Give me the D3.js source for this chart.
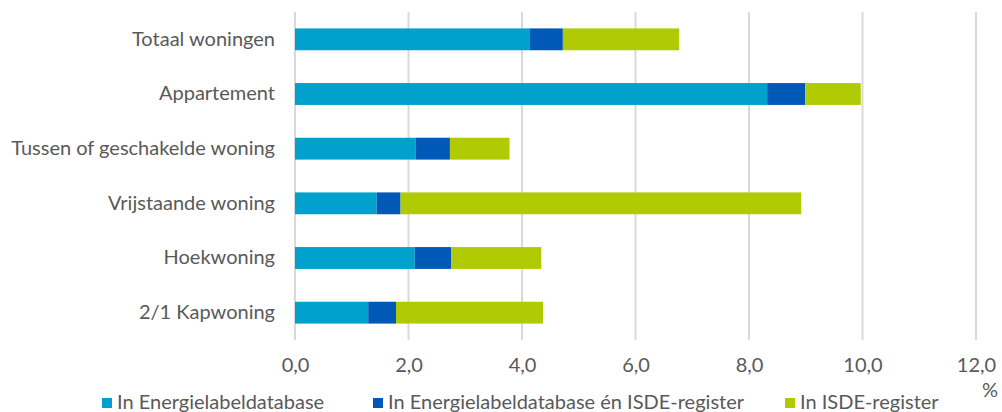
<!DOCTYPE html>
<html>
<head>
<meta charset="utf-8">
<script src="https://cdn.jsdelivr.net/npm/d3@7"></script>
<style>
  html, body { margin: 0; padding: 0; background: #fff; }
  svg { display: block; font-family: Lato, "Open Sans", sans-serif; }
</style>
</head>
<body>
<svg id="chart" width="1002" height="412"></svg>
<script>
// Share of dwellings per type, in percent
const categories = ["Totaal woningen", "Appartement", "Tussen of geschakelde woning",
                    "Vrijstaande woning", "Hoekwoning", "2/1 Kapwoning"];
const seriesNames = ["In Energielabeldatabase", "In Energielabeldatabase én ISDE-register", "In ISDE-register"];
const energielabel = [4.13, 8.32, 2.13, 1.44, 2.11, 1.29];
const beide        = [0.59, 0.67, 0.60, 0.42, 0.64, 0.49];
const isde         = [2.05, 0.98, 1.05, 7.06, 1.59, 2.59];
const xTicks = [0, 2, 4, 6, 8, 10, 12];
const colors = ["#00a1cd", "#0058b7", "#b0cb04"];

const rows = categories.map((c, i) => ({
  cat: c,
  [seriesNames[0]]: energielabel[i],
  [seriesNames[1]]: beide[i],
  [seriesNames[2]]: isde[i]
}));
const stacked = d3.stack().keys(seriesNames)(rows);

const svg = d3.select("#chart");
const x = d3.scaleLinear().domain([0, 12]).range([295, 976]);
const y = d3.scaleBand().domain(categories).range([12, 340])
  .paddingInner(0.6).paddingOuter(0.3);

const fmt = v => d3.format(".1f")(v).replace(".", ",");
const textColor = "#595959";
const fontSize = 20;

// vertical gridlines
svg.append("g").selectAll("line").data(xTicks).join("line")
  .attr("x1", d => x(d)).attr("x2", d => x(d))
  .attr("y1", 12).attr("y2", 340)
  .attr("stroke", "#d9d9d9").attr("stroke-width", 2);

// stacked bars
svg.append("g").selectAll("g").data(stacked).join("g")
  .attr("fill", (d, i) => colors[i])
  .selectAll("rect").data(d => d).join("rect")
  .attr("x", d => x(d[0]))
  .attr("y", d => y(d.data.cat))
  .attr("width", d => x(d[1]) - x(d[0]))
  .attr("height", y.bandwidth());

// category labels
const yAxis = svg.append("g").attr("transform", "translate(295,0)")
  .call(d3.axisLeft(y).tickSize(0).tickPadding(20));
yAxis.select(".domain").remove();
yAxis.selectAll("text").attr("fill", textColor)
  .style("font-size", fontSize + "px").style("font-family", "Lato, sans-serif");

// value axis labels
const xAxis = svg.append("g").attr("transform", "translate(0,340)")
  .call(d3.axisBottom(x).tickValues(xTicks).tickFormat(fmt).tickSize(0).tickPadding(18));
xAxis.select(".domain").remove();
xAxis.selectAll("text").attr("fill", textColor)
  .style("font-size", fontSize + "px").style("font-family", "Lato, sans-serif");

// unit label
svg.append("text").attr("x", 990).attr("y", 397).attr("text-anchor", "middle")
  .attr("fill", textColor).style("font-size", fontSize + "px").text("%");

// legend
const legendX = [102, 373, 785];
const legend = svg.append("g").selectAll("g").data(seriesNames).join("g")
  .attr("transform", (d, i) => `translate(${legendX[i]},398)`);
legend.append("rect").attr("width", 10).attr("height", 10)
  .attr("fill", (d, i) => colors[i]);
legend.append("text").attr("x", 15).attr("y", 11)
  .attr("fill", textColor).style("font-size", fontSize + "px").text(d => d);
</script>
</body>
</html>
